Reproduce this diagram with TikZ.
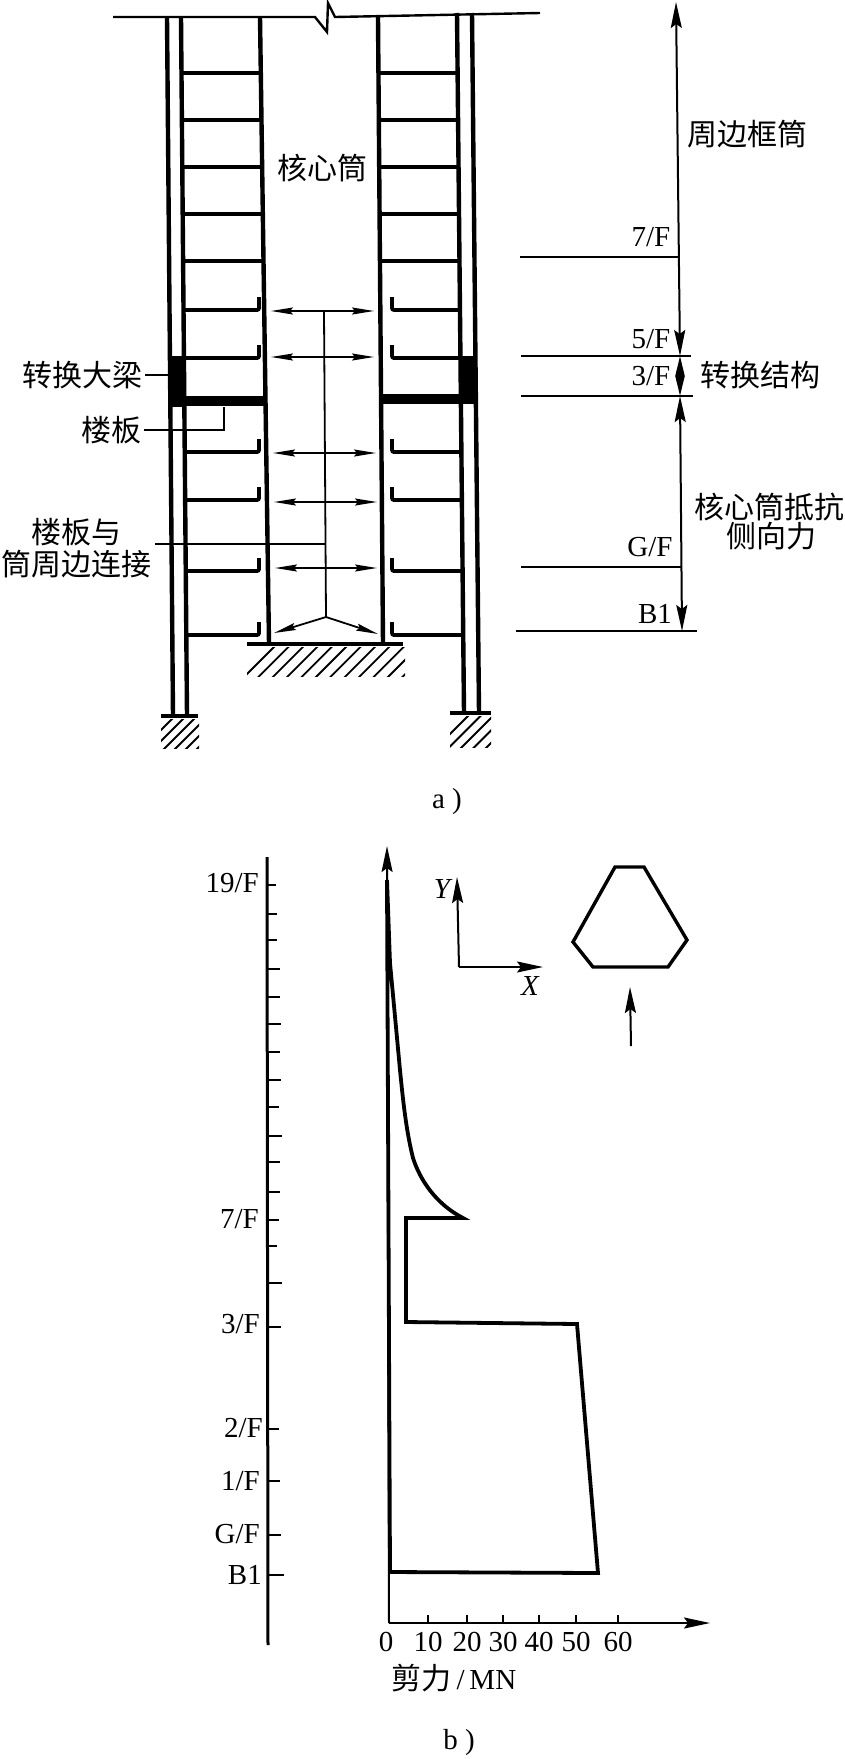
\documentclass[tikz,border=0pt]{standalone}
\usepackage{fontspec}
\setmainfont{Liberation Serif}
\newfontfamily\cjk{Noto Sans CJK SC}
\usetikzlibrary{arrows.meta}
\tikzset{
  cnlabel/.style={font=\cjk\fontsize{30}{32}\selectfont,inner sep=0pt,outer sep=3pt,align=center},
  flabel/.style={font=\fontsize{29}{30}\selectfont,inner sep=0pt},
  wall/.style={line width=4.4pt},
  floorbeam/.style={line width=3.8pt,rounded corners=2pt},
  thin line/.style={line width=1.8pt},
  big tip/.style={>={Stealth[length=26pt,width=11pt,inset=4pt]}},
  small tip/.style={>={Stealth[length=22pt,width=7pt,inset=3pt]}}
}
\begin{document}
\begin{tikzpicture}[x=1pt,y=-1pt]
\useasboundingbox (0,0) rectangle (845,1759);

% Top line with break
\draw[line width=2.4pt] (113,17) -- (315,17) -- (327,32) -- (328,3) -- (335,17) -- (540,13);

% Columns and core walls
\draw[wall] (167,17) -- (173,716);
\draw[wall] (181,17) -- (187,716);
\draw[wall] (260,17) -- (269,644);
\draw[wall] (378,17) -- (383,644);
\draw[wall] (457,13) -- (464,713);
\draw[wall] (472,13) -- (479,713);

% Plain floors
\foreach \yy in {73,120,167,214,261} {
  \pgfmathsetmacro{\xa}{181+(\yy-17)*6/699}
  \pgfmathsetmacro{\xb}{260+(\yy-17)*9/627}
  \pgfmathsetmacro{\xc}{378+(\yy-17)*5/627}
  \pgfmathsetmacro{\xd}{457+(\yy-13)*7/700}
  \draw[floorbeam] (\xa,\yy) -- (\xb,\yy);
  \draw[floorbeam] (\xc,\yy) -- (\xd,\yy);
}

% Floors with a free end
\foreach \yy in {310,358,452,500,571,635} {
  \pgfmathsetmacro{\xa}{181+(\yy-17)*6/699}
  \pgfmathsetmacro{\xd}{457+(\yy-13)*7/700}
  \draw[floorbeam] (\xa,\yy) -- (259,\yy) -- (259,\yy-13);
  \draw[floorbeam] (\xd,\yy) -- (392,\yy) -- (392,\yy-13);
}

% Transfer beams
\fill (169,356) rectangle (186,407);
\fill (459,356) rectangle (477,404);
\draw[line width=10pt] (169,401) -- (266,401);
\draw[line width=10pt] (382,399) -- (462,399);

% Base lines and hatching
\draw[line width=3.8pt] (247,644) -- (403,644);
\draw[line width=3.8pt] (161,716) -- (198,716);
\draw[line width=3.8pt] (450,713) -- (491,713);
\begin{scope}
  \clip (247,647) rectangle (405,676);
  \foreach \i in {0,...,12}
    \draw[line width=1.8pt] (275+14.4*\i,646) -- (240+14.4*\i,681);
\end{scope}
\begin{scope}
  \clip (161,719) rectangle (199,748);
  \foreach \i in {0,...,5}
    \draw[line width=1.8pt] (175+11*\i,716) -- (140+11*\i,751);
\end{scope}
\begin{scope}
  \clip (450,716) rectangle (491,747);
  \foreach \i in {0,...,5}
    \draw[line width=1.8pt] (470+12.5*\i,714) -- (435+12.5*\i,749);
\end{scope}

% Load arrows inside the core
\foreach \yy/\xa/\xb in {311/271/374,357/271/374,453/273/376,502/274/377,568/275/377}
  \draw[thin line,small tip,<->] (\xa,\yy) -- (\xb,\yy);
\coordinate (stem top) at (324,312);
\coordinate (stem end) at (326,617);
\coordinate (stem left) at (274,633);
\coordinate (stem right) at (378,634);
\draw[thin line] (stem top) -- (stem end);
\draw[thin line,small tip,->] (stem end) -- (stem left);
\draw[thin line,small tip,->] (stem end) -- (stem right);

% Labels of the section
\node[cnlabel] (lblcore) at (322,168) {核心筒};
\node[cnlabel] (lblbeam) at (82,375) {转换大梁};
\node[cnlabel] (lblslab) at (111,430) {楼板};
\node[cnlabel,text width=152pt] (lbljoint) at (77,548) {\baselineskip=30pt 楼板与\\筒周边连接};
\coordinate (beam end) at (169,375);
\coordinate (slab end) at (224,407);
\draw[thin line] (lblbeam.east) -- (beam end);
\draw[line width=2pt] (lblslab.east) -- (slab end |- lblslab.east) -- (slab end);
\draw[thin line] (155,544) -- (325,544);

% Level lines
\draw[line width=2pt] (520,257) -- (678,257);
\draw[line width=2pt] (521,356) -- (691,356);
\draw[line width=2pt] (521,396) -- (693,396);
\draw[line width=2pt] (521,567) -- (682,567);
\draw[line width=2pt] (516,631) -- (697,631);
\node[flabel] (f7) at (651,237) {7/F};
\node[flabel] (f5) at (651,339) {5/F};
\node[flabel] (f3) at (651,376) {3/F};
\node[flabel] (fg) at (650,547) {G/F};
\node[flabel] (fb) at (655,614) {B1};

% Extent arrows
\coordinate (top) at (676,2);
\coordinate (lev5) at (680,356);
\coordinate (lev3) at (680,396);
\coordinate (lev0) at (682,631);
\draw[line width=2pt,big tip,<->] (top) -- (lev5);
\draw[line width=2pt,>={Stealth[length=20pt,width=9pt,inset=0pt]},<->] (lev5) -- (lev3);
\draw[line width=2pt,big tip,<->] (lev3) -- (lev0);
\node[cnlabel] (lblframe) at (747,134) {周边框筒};
\node[cnlabel] (lbltrans) at (760,375) {转换结构};
\node[cnlabel] (lblcap) at (769,507) {核心筒抵抗};
\node[cnlabel] (lblcap2) at (771,536) {侧向力};
\node[flabel] (capa) at (447,802) {a )};

% Floor scale of the shear plot
\draw[line width=3pt] (267,857) -- (268,1645);
\foreach \yy/\xx in {885/276,914/277,940/277,969/280,997/280,1024/281,1052/280,1080/281,1107/279,1136/282,1162/280,1192/280,1220/279,1246/277,1283/282,1327/281,1429/279,1481/280,1535/281,1575/284}
  \draw[line width=2pt] (267,\yy) -- (\xx,\yy);
\node[flabel,anchor=east] (s19) at (259,883) {19/F};
\node[flabel,anchor=east] (s7) at (259,1219) {7/F};
\node[flabel,anchor=east] (s3) at (260,1324) {3/F};
\node[flabel,anchor=east] (s2) at (263,1428) {2/F};
\node[flabel,anchor=east] (s1) at (260,1481) {1/F};
\node[flabel,anchor=east] (sg) at (260,1534) {G/F};
\node[flabel,anchor=east] (sb) at (262,1575) {B1};

% Shear axes
\draw[line width=2pt,big tip,->] (389,1623) -- (387,846);
\draw[line width=2pt,big tip,->] (389,1623) -- (710,1623);
\foreach \xx/\val in {428/10,467/20,503/30,539/40,576/50,618/60} {
  \draw[line width=1.8pt] (\xx,1615) -- (\xx,1623);
  \node[flabel] at (\xx,1642) {\val};
}
\node[flabel] (zero) at (386,1642) {0};

% Shear curve
\draw[line width=3.8pt,line join=miter] (387,880) -- (390,963) -- (400,1070)
  .. controls (403,1100) and (406,1130) .. (413,1158)
  .. controls (420,1180) and (436,1204) .. (463,1218)
  -- (406,1218) -- (406,1322) -- (577,1324) -- (598,1573) -- (390,1572) -- (387,880);

\node[flabel] (axtitle) at (454,1678) {{\cjk\fontsize{30}{32}\selectfont 剪力}\,/\,MN};
\node[flabel] (capb) at (459,1743) {b )};

% Direction key
\coordinate (key o) at (459,967);
\draw[line width=2pt,big tip,->] (key o) -- (457,877);
\draw[line width=2pt,big tip,->] (key o) -- (543,967);
\node[flabel,font=\fontsize{29}{30}\selectfont\itshape] (keyy) at (442,889) {Y};
\node[flabel,font=\fontsize{29}{30}\selectfont\itshape] (keyx) at (530,986) {X};

% Plan outline
\draw[line width=3.4pt] (615,867) -- (644,867) -- (687,940) -- (668,967) -- (593,967) -- (573,942) -- cycle;
\draw[line width=2pt,big tip,->] (631,1046) -- (630,987);
\end{tikzpicture}
\end{document}
